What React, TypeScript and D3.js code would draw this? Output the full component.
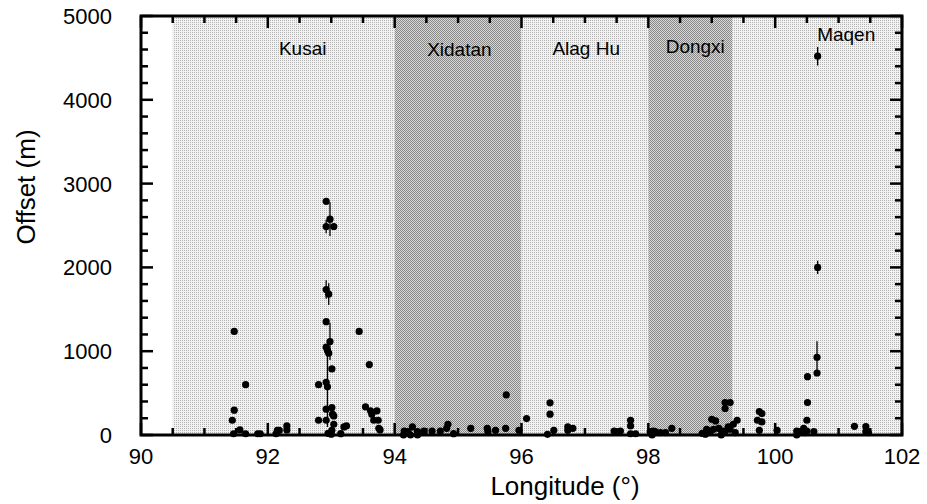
import React from "react";
import * as d3 from "d3";

// ---- data ----
const regionNames = ["Kusai", "Xidatan", "Alag Hu", "Dongxi", "Maqen"];
const regionStart = [90.5, 94.0, 96.0, 98.0, 99.33];
const regionEnd = [94.0, 96.0, 98.0, 99.33, 102.0];
const regionLabelLon = [92.55, 95.02, 97.02, 98.74, 101.12];
const regionLabelOffset = [4530, 4520, 4530, 4560, 4700];

const lon = [
  // Kusai
  91.47, 91.47, 91.44, 91.56, 91.46, 91.65, 91.65, 91.84, 91.88, 92.13, 92.15, 92.18, 92.30, 92.30,
  92.92, 92.98, 92.92, 93.04, 92.92, 92.96, 92.92, 92.98, 92.92, 92.94, 92.96, 93.01, 92.80, 92.92,
  92.94, 92.80, 92.92, 92.92, 93.01, 93.02, 93.04, 93.04, 93.01, 93.15, 93.20, 93.24, 93.44, 93.60,
  93.54, 93.62, 93.72, 93.64, 93.67, 93.74, 93.75, 93.77, 92.95, 93.0,
  // Xidatan
  94.15, 94.21, 94.28, 94.36, 94.46, 94.59, 94.72, 94.82, 94.84, 94.93, 95.20, 95.46, 95.47, 95.59,
  95.75, 95.76, 95.96, 94.14, 94.25, 94.36,
  // Alag Hu
  96.08, 96.45, 96.45, 96.51, 96.41, 96.73, 96.73, 96.81, 97.46, 97.56, 97.72, 97.72, 97.72, 97.80,
  // Dongxi
  98.08, 98.03, 98.11, 98.19, 98.27, 98.37, 98.06, 98.92, 98.98, 99.03, 99.06, 99.00, 99.11, 99.16,
  99.21, 99.29, 99.21, 99.26, 99.21, 99.29, 99.34, 99.40, 99.37, 99.15, 98.85, 98.90, 98.95,
  // Maqen
  99.72, 99.79, 99.75, 99.79, 99.75, 100.03, 100.34, 100.39, 100.45, 100.47, 100.50, 100.61, 100.34,
  100.50, 100.51, 100.51, 100.66, 100.66, 100.67, 100.67, 101.25, 101.43, 101.43, 101.47,
];

const offset = [
  // Kusai
  1236, 296, 176, 60, 15, 600, 15, 15, 15, 15, 55, 55, 108, 60,
  2788, 2576, 2488, 2488, 1736, 1680, 1352, 1116, 1048, 1008, 976, 788, 600, 628,
  576, 176, 308, 176, 328, 248, 228, 128, 56, 16, 96, 108, 1236, 840,
  336, 288, 288, 248, 176, 176, 80, 60, 20, 10,
  // Xidatan
  48, 40, 96, 40, 48, 48, 48, 80, 128, 16, 80, 80, 40, 56,
  80, 480, 56, 0, 0, 0,
  // Alag Hu
  196, 384, 248, 56, 8, 96, 56, 80, 48, 48, 176, 108, 15, 15,
  // Dongxi
  48, 40, 40, 28, 28, 80, 0, 68, 48, 68, 168, 188, 80, 48,
  388, 388, 316, 96, 48, 68, 128, 176, 28, 0, 20, 10, 30,
  // Maqen
  176, 156, 280, 256, 56, 56, 48, 40, 80, 28, 48, 40, 0,
  176, 388, 696, 740, 928, 2000, 4520, 104, 100, 40, 28,
];

// error bars: point (longitude, offset) and half-length in metres
const errLon = [92.98, 92.92, 92.92, 92.96, 92.98, 92.94, 100.66, 100.67, 100.67];
const errOffset = [2576, 2488, 1736, 1680, 1116, 576, 928, 2000, 4520];
const errSize = [200, 80, 110, 130, 220, 480, 190, 80, 110];

const xTicks = [90, 92, 94, 96, 98, 100, 102];
const yTicks = [0, 1000, 2000, 3000, 4000, 5000];

export default function App() {
  const W = 927;
  const H = 504;
  const x = d3.scaleLinear().domain([90, 102]).range([141, 902]);
  const y = d3.scaleLinear().domain([0, 5000]).range([435, 16]);

  const xMinor = d3.range(90, 102.001, 0.5).filter((v) => Math.abs(v % 2) > 1e-6);
  const yMinor = d3.range(0, 5000.1, 200).filter((v) => v % 1000 !== 0);
  const font = "'Liberation Sans', Arial, Helvetica, sans-serif";
  const tickW = 2.5;
  const maj = 12;
  const min = 7;

  return (
    <svg
      width={W}
      height={H}
      style={{ position: "absolute", left: 0, top: 0, background: "#fff" }}
      fontFamily={font}
    >
      <defs>
        <pattern id="light" width="2" height="2" patternUnits="userSpaceOnUse">
          <rect width="2" height="2" fill="#f2f2f2" />
          <rect width="1" height="1" fill="#b4b4b4" />
        </pattern>
        <pattern id="dark" width="2" height="2" patternUnits="userSpaceOnUse">
          <rect width="2" height="2" fill="#d8d8d8" />
          <rect width="1" height="1" fill="#888" />
          <rect x="1" y="1" width="1" height="1" fill="#888" />
        </pattern>
        <clipPath id="plot">
          <rect x={x(90)} y={y(5000)} width={x(102) - x(90)} height={y(0) - y(5000)} />
        </clipPath>
      </defs>

      {/* shaded regions */}
      {regionNames.map((n, i) => (
        <rect
          key={n}
          x={x(regionStart[i])}
          y={y(5000)}
          width={x(regionEnd[i]) - x(regionStart[i])}
          height={y(0) - y(5000)}
          fill={i % 2 === 1 ? "url(#dark)" : "url(#light)"}
        />
      ))}

      {/* region labels */}
      {regionNames.map((n, i) => (
        <text
          key={"l" + n}
          x={x(regionLabelLon[i])}
          y={y(regionLabelOffset[i])}
          textAnchor="middle"
          fontSize={19}
          fill="#000"
        >
          {n}
        </text>
      ))}

      {/* error bars */}
      <g clipPath="url(#plot)">
        {errLon.map((l, k) => (
          <line
            key={"e" + k}
            x1={x(l)}
            x2={x(l)}
            y1={y(errOffset[k] - errSize[k])}
            y2={y(errOffset[k] + errSize[k])}
            stroke="#000"
            strokeWidth={1.3}
          />
        ))}
      </g>

      {/* points */}
      <g>
        {lon.map((l, i) => (
          <circle key={"p" + i} cx={x(l)} cy={y(offset[i])} r={3.6} fill="#000" />
        ))}
      </g>

      {/* ticks: bottom & top */}
      {xTicks.map((t) => (
        <g key={"xt" + t}>
          <line x1={x(t)} x2={x(t)} y1={y(0)} y2={y(0) - maj} stroke="#000" strokeWidth={tickW} />
          <line x1={x(t)} x2={x(t)} y1={y(5000)} y2={y(5000) + maj} stroke="#000" strokeWidth={tickW} />
          <text x={x(t)} y={464} textAnchor="middle" fontSize={22}>
            {t}
          </text>
        </g>
      ))}
      {xMinor.map((t) => (
        <g key={"xm" + t}>
          <line x1={x(t)} x2={x(t)} y1={y(0)} y2={y(0) - min} stroke="#000" strokeWidth={tickW} />
          <line x1={x(t)} x2={x(t)} y1={y(5000)} y2={y(5000) + min} stroke="#000" strokeWidth={tickW} />
        </g>
      ))}

      {/* ticks: left & right */}
      {yTicks.map((t) => (
        <g key={"yt" + t}>
          <line x1={x(90)} x2={x(90) + maj} y1={y(t)} y2={y(t)} stroke="#000" strokeWidth={tickW} />
          <line x1={x(102)} x2={x(102) - maj} y1={y(t)} y2={y(t)} stroke="#000" strokeWidth={tickW} />
          <text x={112} y={y(t)} dy="0.36em" textAnchor="end" fontSize={22}>
            {t}
          </text>
        </g>
      ))}
      {yMinor.map((t) => (
        <g key={"ym" + t}>
          <line x1={x(90)} x2={x(90) + min} y1={y(t)} y2={y(t)} stroke="#000" strokeWidth={tickW} />
          <line x1={x(102)} x2={x(102) - min} y1={y(t)} y2={y(t)} stroke="#000" strokeWidth={tickW} />
        </g>
      ))}

      {/* frame */}
      <rect
        x={x(90)}
        y={y(5000)}
        width={x(102) - x(90)}
        height={y(0) - y(5000)}
        fill="none"
        stroke="#000"
        strokeWidth={3}
      />

      {/* axis titles */}
      <text x={565} y={495} textAnchor="middle" fontSize={26}>
        Longitude (°)
      </text>
      <text transform={`translate(35, 187) rotate(-90)`} textAnchor="middle" fontSize={26}>
        Offset (m)
      </text>
    </svg>
  );
}
